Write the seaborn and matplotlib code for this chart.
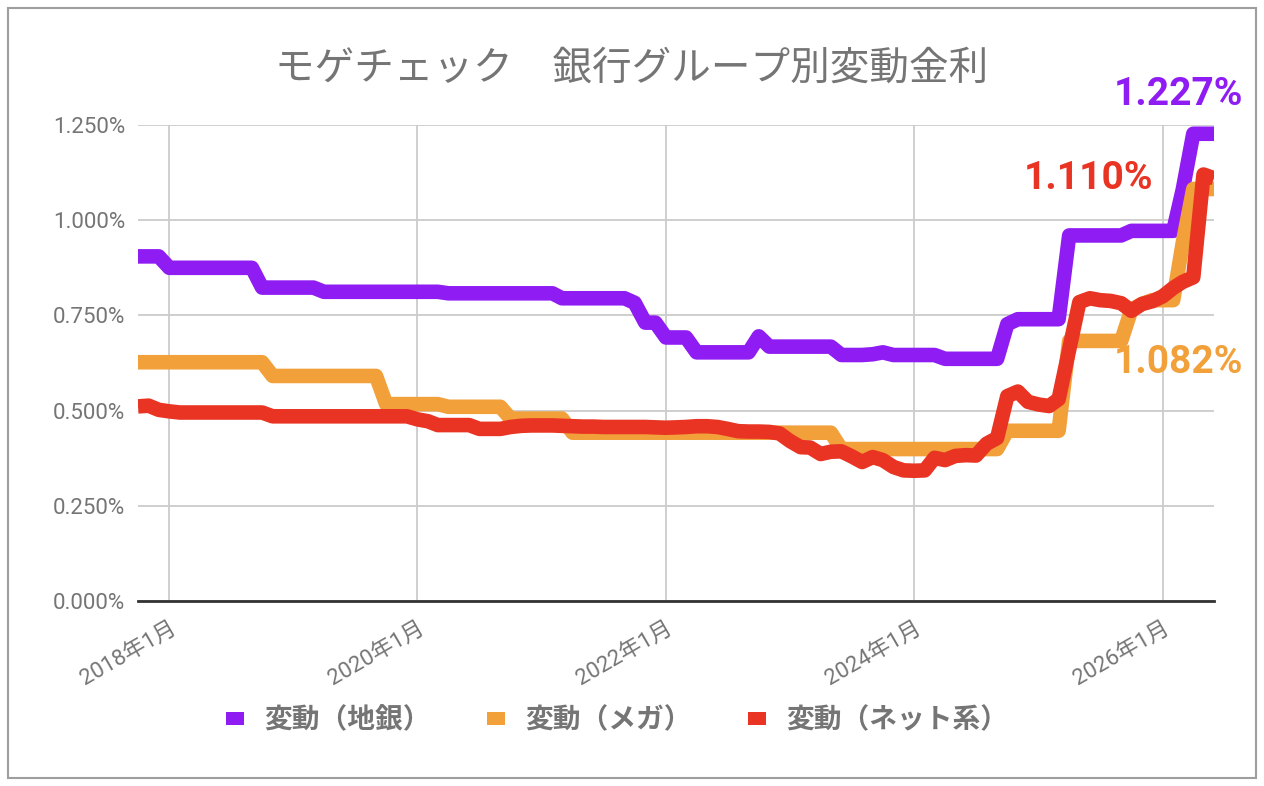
import pandas as pd
import matplotlib.pyplot as plt
from matplotlib.patches import Patch, Rectangle
from matplotlib.ticker import FuncFormatter
import seaborn as sns

# monthly rates (%), 2017-10 .. 2026-06
months = pd.date_range('2017-10-01', '2026-06-01', freq='MS')

chigin = [0.905, 0.905, 0.905,
          0.875, 0.875, 0.875, 0.875, 0.875, 0.875, 0.875, 0.875, 0.875, 0.823, 0.823, 0.823,
          0.823, 0.823, 0.823, 0.812, 0.812, 0.812, 0.812, 0.812, 0.812, 0.812, 0.812, 0.812,
          0.812, 0.812, 0.812, 0.808, 0.808, 0.808, 0.808, 0.808, 0.808, 0.808, 0.808, 0.808,
          0.808, 0.808, 0.795, 0.795, 0.795, 0.795, 0.795, 0.795, 0.795, 0.783, 0.731, 0.731,
          0.692, 0.692, 0.692, 0.653, 0.653, 0.653, 0.653, 0.653, 0.653, 0.695, 0.668, 0.668,
          0.668, 0.668, 0.668, 0.668, 0.668, 0.646, 0.646, 0.646, 0.648, 0.653, 0.646, 0.646,
          0.646, 0.646, 0.646, 0.636, 0.636, 0.636, 0.636, 0.636, 0.636, 0.727, 0.740, 0.740,
          0.740, 0.740, 0.740, 0.960, 0.960, 0.960, 0.960, 0.960, 0.960, 0.972, 0.972, 0.972,
          0.972, 0.972, 1.080, 1.227, 1.227, 1.227]

mega = [0.627, 0.627, 0.627,
        0.627, 0.627, 0.627, 0.627, 0.627, 0.627, 0.627, 0.627, 0.627, 0.627, 0.591, 0.591,
        0.591, 0.591, 0.591, 0.591, 0.591, 0.591, 0.591, 0.591, 0.591, 0.517, 0.517, 0.517,
        0.517, 0.517, 0.517, 0.510, 0.510, 0.510, 0.510, 0.510, 0.510, 0.479, 0.479, 0.479,
        0.479, 0.479, 0.479, 0.442, 0.442, 0.442, 0.442, 0.442, 0.442, 0.442, 0.442, 0.442,
        0.442, 0.442, 0.442, 0.442, 0.442, 0.442, 0.442, 0.442, 0.442, 0.442, 0.442, 0.442,
        0.442, 0.442, 0.442, 0.442, 0.442, 0.399, 0.399, 0.399, 0.399, 0.399, 0.399, 0.399,
        0.399, 0.399, 0.399, 0.399, 0.399, 0.399, 0.399, 0.399, 0.399, 0.447, 0.447, 0.447,
        0.447, 0.447, 0.447, 0.683, 0.683, 0.683, 0.683, 0.683, 0.683, 0.765, 0.780, 0.790,
        0.790, 0.790, 0.940, 1.082, 1.082, 1.082]

net = [0.511, 0.513, 0.502,
       0.498, 0.495, 0.495, 0.495, 0.495, 0.495, 0.495, 0.495, 0.495, 0.495, 0.485, 0.485,
       0.485, 0.485, 0.485, 0.485, 0.485, 0.485, 0.485, 0.485, 0.485, 0.485, 0.485, 0.485,
       0.477, 0.472, 0.462, 0.462, 0.462, 0.462, 0.452, 0.452, 0.452, 0.457, 0.460, 0.461,
       0.461, 0.461, 0.460, 0.459, 0.458, 0.458, 0.457, 0.457, 0.457, 0.457, 0.457, 0.456,
       0.455, 0.456, 0.457, 0.459, 0.459, 0.457, 0.452, 0.446, 0.445, 0.445, 0.444, 0.440,
       0.420, 0.404, 0.403, 0.386, 0.392, 0.393, 0.380, 0.365, 0.378, 0.370, 0.352, 0.343,
       0.342, 0.343, 0.376, 0.370, 0.381, 0.383, 0.382, 0.413, 0.428, 0.538, 0.550, 0.523,
       0.516, 0.512, 0.530, 0.660, 0.785, 0.795, 0.790, 0.788, 0.782, 0.762, 0.780, 0.787,
       0.800, 0.822, 0.838, 0.850, 1.120, 1.110]

series_names = ['変動（地銀）', '変動（メガ）', '変動（ネット系）']
colors = ['#8f1cf2', '#f1a03a', '#e93423']
xtick_dates = pd.to_datetime(['2018-01-01', '2020-01-01', '2022-01-01', '2024-01-01', '2026-01-01'])
xtick_labels = ['2018年1月', '2020年1月', '2022年1月', '2024年1月', '2026年1月']
yticks = [0, 0.25, 0.5, 0.75, 1.0, 1.25]
title = 'モゲチェック　銀行グループ別変動金利'

sns.set_theme(style='white')
plt.rcParams['font.family'] = ['Roboto', 'Noto Sans CJK JP', 'DejaVu Sans']
grey = '#757575'

W, H = 1264, 786
fig = plt.figure(figsize=(W / 100, H / 100), dpi=100)
ax = fig.add_axes([138 / W, 1 - 601 / H, (1214 - 138) / W, (601 - 125) / H])

for vals, c in zip([chigin, mega, net], colors):
    sns.lineplot(x=months, y=vals, color=c, linewidth=10.5, ax=ax,
                 solid_capstyle='butt', zorder=3)

ax.set_xlim(months[0], months[-1])
ax.set_ylim(0, 1.25)
ax.set_yticks(yticks)
ax.yaxis.set_major_formatter(FuncFormatter(lambda v, p: f'{v:.3f}%'))
ax.set_xticks(xtick_dates)
ax.set_xticklabels(xtick_labels, rotation=30, ha='right', rotation_mode='anchor')
ax.tick_params(axis='y', length=0, pad=9, labelsize=16, labelcolor=grey)
ax.tick_params(axis='x', length=0, pad=12, labelsize=16, labelcolor=grey)
ax.grid(True, color='#cccccc', linewidth=1.3)
ax.set_axisbelow(True)
for s in ['top', 'right', 'left']:
    ax.spines[s].set_visible(False)
ax.spines['bottom'].set_color('#333333')
ax.spines['bottom'].set_linewidth(2)
ax.set_xlabel('')
ax.set_ylabel('')

# end-of-series labels
offsets = [(29, 39), (29, -174), (-61, 0)]
for vals, c, off in zip([chigin, mega, net], colors, offsets):
    ax.annotate(f'{vals[-1]:.3f}%', xy=(months[-1], vals[-1]), xytext=off,
                textcoords='offset pixels', ha='right', va='center', color=c,
                fontsize=28, fontweight='bold', annotation_clip=False)

fig.text(632 / W, 1 - 68 / H, title, ha='center', va='center', fontsize=28.5, color=grey)

handles = [Patch(facecolor=c, edgecolor='none') for c in colors]
fig.legend(handles, series_names, loc='center', bbox_to_anchor=(617 / W, 1 - 721 / H),
           ncol=3, frameon=False, prop={'size': 20, 'weight': 'bold'}, labelcolor=grey,
           handlelength=0.65, handleheight=0.35, handletextpad=0.75, columnspacing=2.0)

fig.patches.append(Rectangle((8 / W, 8 / H), (1256 - 8) / W, (778 - 8) / H,
                             transform=fig.transFigure, fill=False,
                             edgecolor='#9e9e9e', linewidth=1.5))

fig.savefig('out.png', dpi=100)
